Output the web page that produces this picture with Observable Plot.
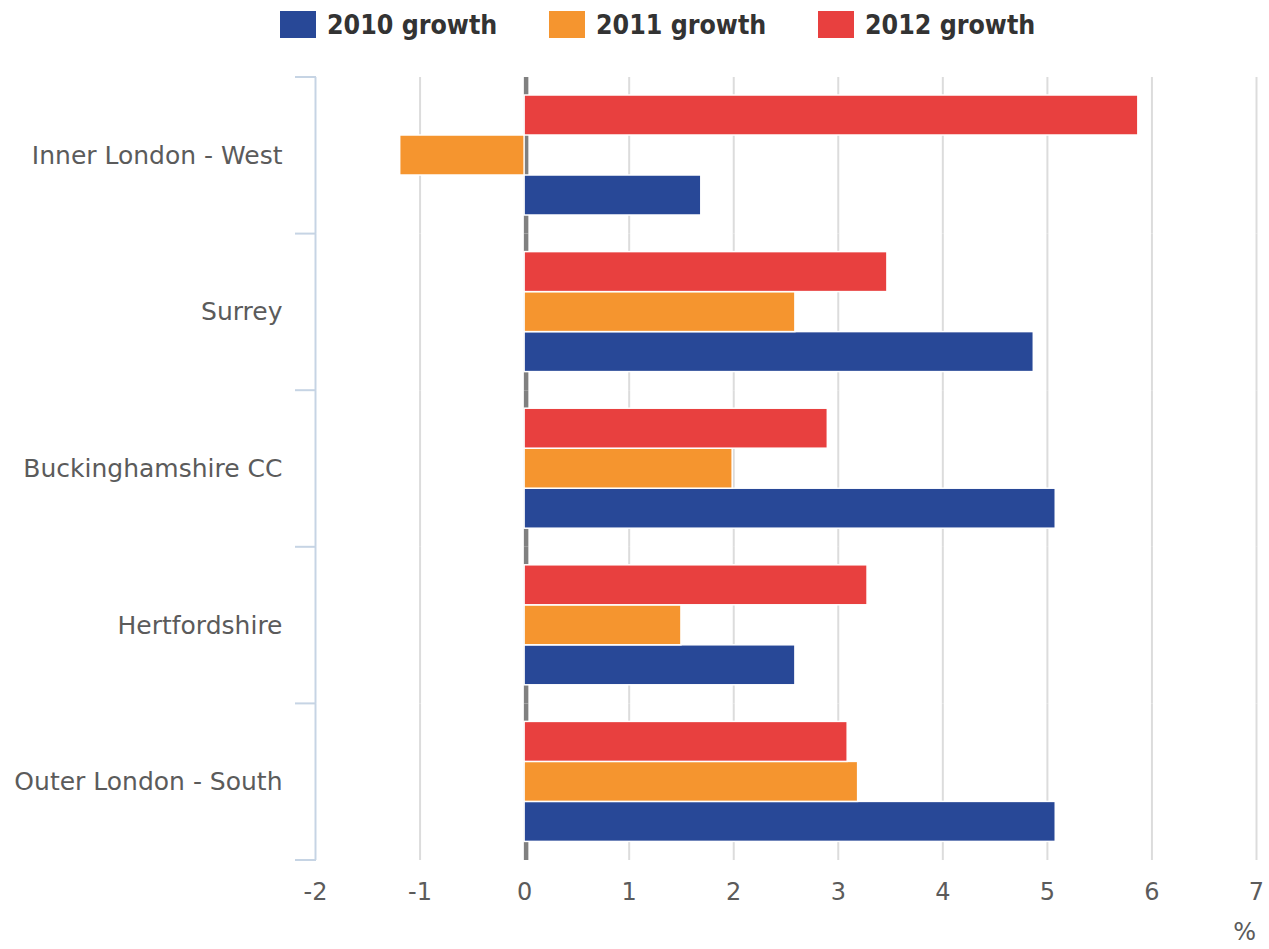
<!DOCTYPE html>
<html>
<head>
<meta charset="utf-8">
<script src="https://cdn.jsdelivr.net/npm/d3@7"></script>
<script src="https://cdn.jsdelivr.net/npm/@observablehq/plot@0.6"></script>
<style>
  html, body { margin: 0; padding: 0; background: #fff; }
  #legend { height: 60px; box-sizing: border-box; padding-top: 11px; padding-left: 280px; display: flex; align-items: flex-start; }
  .item { width: 269px; height: 27px; display: flex; align-items: center; }
  .sw { width: 36px; height: 27px; margin-right: 11px; flex: none; }
  .lab { font-family: "DejaVu Sans Condensed", "DejaVu Sans", sans-serif; font-stretch: condensed; font-weight: bold; font-size: 26.5px; color: #333; line-height: 27px; }
  #chart { height: 889px; overflow: hidden; }
  #chart svg { display: block; }
</style>
</head>
<body>
<div id="legend"></div>
<div id="chart"></div>
<script>
const regions = ["Inner London - West", "Surrey", "Buckinghamshire CC", "Hertfordshire", "Outer London - South"];
const series = ["2010 growth", "2011 growth", "2012 growth"];
const growth2010 = [1.69, 4.87, 5.08, 2.59, 5.08];
const growth2011 = [-1.19, 2.59, 1.99, 1.5, 3.19];
const growth2012 = [5.87, 3.47, 2.9, 3.28, 3.09];
const seriesColors = ["#284897", "#f5952f", "#e8403f"];
const xTicks = [-2, -1, 0, 1, 2, 3, 4, 5, 6, 7];
const xUnit = "%";

const valuesBySeries = [growth2010, growth2011, growth2012];
const rows = regions.flatMap((region, i) =>
  series.map((s, j) => ({region, series: s, value: valuesBySeries[j][i]}))
);

// legend
const legend = document.getElementById("legend");
series.forEach((s, j) => {
  const item = document.createElement("div");
  item.className = "item";
  const sw = document.createElement("div");
  sw.className = "sw";
  sw.style.background = seriesColors[j];
  const lab = document.createElement("span");
  lab.className = "lab";
  lab.textContent = s;
  item.appendChild(sw);
  item.appendChild(lab);
  legend.appendChild(item);
});

const chart = Plot.plot({
  width: 1269,
  height: 889,
  marginTop: 17,
  marginBottom: 89,
  marginLeft: 315,
  marginRight: 13,
  style: {fontFamily: "DejaVu Sans, sans-serif", fontSize: "24px", color: "#5b5b5b", background: "#fff"},
  x: {domain: [-2, 7]},
  y: {domain: series.slice().reverse(), paddingInner: 0, paddingOuter: 0.43, axis: null},
  fy: {domain: regions, padding: 0, round: false},
  color: {domain: series, range: seriesColors},
  marks: [
    Plot.ruleX(xTicks.filter(d => d !== 0 && d !== -2), {stroke: "#dcdcdc", strokeWidth: 2}),
    Plot.ruleX([-2], {stroke: "#c6d4e4", strokeWidth: 2}),
    Plot.ruleX([0], {stroke: "#808080", strokeWidth: 4.5, dx: 1.5}),
    Plot.barX(rows, {x: "value", y: "series", fy: "region", fill: "series", stroke: "white", strokeWidth: 1.5}),
    Plot.axisX({
      ticks: xTicks, tickSize: 0, tickPadding: 22, tickFormat: d => String(d),
      label: null, fontSize: 24, fill: "#5b5b5b"
    }),
    Plot.axisFy({anchor: "left", tickSize: 0, tickPadding: 33, label: null, fontSize: 25, fill: "#5b5b5b"})
  ]
});

document.getElementById("chart").appendChild(chart);

// bracket ticks at facet band boundaries on the left axis
const fy = chart.scale("fy");
const xs = chart.scale("x");
const x0 = xs.apply(-2);
const bounds = regions.map(r => fy.apply(r));
const bottom = fy.apply(regions[regions.length - 1]) + fy.bandwidth;
bounds.push(bottom);
const svg = d3.select(chart);
svg.append("g")
  .attr("stroke", "#c6d4e4")
  .attr("stroke-width", 2)
  .selectAll("line")
  .data(bounds)
  .join("line")
  .attr("x1", x0 - 20)
  .attr("x2", x0 + 1)
  .attr("y1", d => d)
  .attr("y2", d => d);

// unit label under the right end of the x axis
svg.append("text")
  .attr("x", xs.apply(7))
  .attr("y", bottom + 80)
  .attr("text-anchor", "end")
  .attr("fill", "#5b5b5b")
  .attr("font-size", 24)
  .text(xUnit);
</script>
</body>
</html>
